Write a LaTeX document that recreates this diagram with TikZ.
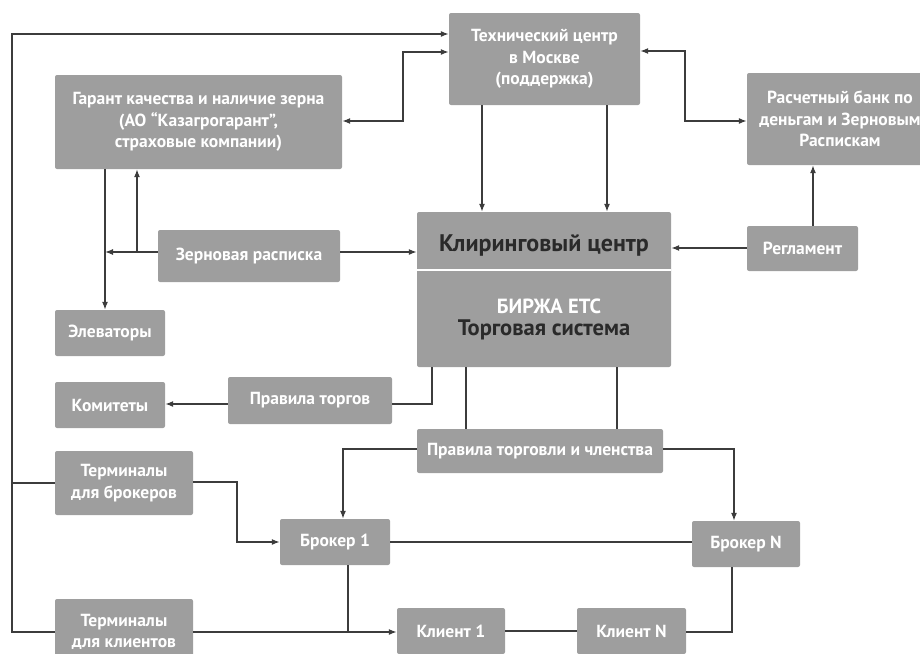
\documentclass[tikz,border=0pt]{standalone}
\usepackage{fontspec}
\setmainfont{PT Sans}
\usetikzlibrary{arrows.meta}
\definecolor{boxgray}{HTML}{9E9E9E}
\definecolor{linegray}{HTML}{3C3C3C}
\definecolor{darktxt}{HTML}{2A2A2A}
\begin{document}
\begin{tikzpicture}[x=1pt,y=-1pt,
  box/.style={fill=boxgray, rounded corners=2pt, text=white, align=center, inner sep=0pt, anchor=center,
    font=\bfseries\fontsize{17.5}{21.5}\selectfont},
  ln/.style={draw=linegray, line width=1.3pt},
  arr/.style={ln, -{Latex[length=8pt,width=6pt]}},
  darr/.style={ln, {Latex[length=8pt,width=6pt]}-{Latex[length=8pt,width=6pt]}},
  bigtxt/.style={text=darktxt, font=\bfseries\fontsize{24}{27}\selectfont, inner sep=0pt},
  midtxt/.style={text=white, font=\bfseries\fontsize{20.5}{23}\selectfont, inner sep=0pt}]
\useasboundingbox (0,0) rectangle (920,653);
% boxes
\node[box, minimum width=191pt, minimum height=92pt] (tech) at (544.5,59) {Технический центр\\в Москве\\(поддержка)};
\node[box, minimum width=287pt, minimum height=94pt] (garant) at (198.5,122) {Гарант качества и наличие зерна\\(АО “Казагрогарант”,\\страховые компании)};
\node[box, minimum width=186pt, minimum height=92pt] (bank) at (840,119) {Расчетный банк по\\деньгам и Зерновым\\Распискам};
\node[box, minimum width=254pt, minimum height=155pt] (clear) at (544,289.5) {};
\node[bigtxt] (cltxt) at (544,245) {Клиринговый центр};
\node[midtxt] (birzha) at (549,306) {БИРЖА ЕТС};
\node[bigtxt, font=\bfseries\fontsize{22.5}{26}\selectfont] (torgsys) at (544,330) {Торговая система};
\node[box, minimum width=182pt, minimum height=52pt] (zern) at (249,256) {Зерновая расписка};
\node[box, minimum width=111pt, minimum height=45pt] (regl) at (802.5,248.5) {Регламент};
\node[box, minimum width=110pt, minimum height=46pt] (elev) at (110,333) {Элеваторы};
\node[box, minimum width=110pt, minimum height=46pt] (komit) at (110,405) {Комитеты};
\node[box, minimum width=164pt, minimum height=47pt] (pravtorg) at (310,400.5) {Правила торгов};
\node[box, minimum width=246pt, minimum height=44pt] (pravchl) at (540,451) {Правила торговли и членства};
\node[box, minimum width=138pt, minimum height=64pt] (termbr) at (124,483) {Терминалы\\для брокеров};
\node[box, minimum width=110pt, minimum height=46pt] (br1) at (335,542) {Брокер 1};
\node[box, minimum width=108pt, minimum height=46pt] (brN) at (746,544) {Брокер N};
\node[box, minimum width=138pt, minimum height=66pt] (termkl) at (124,632) {Терминалы\\для клиентов};
\node[box, minimum width=108pt, minimum height=46pt] (kl1) at (451,631) {Клиент 1};
\node[box, minimum width=109pt, minimum height=46pt] (klN) at (631.5,631) {Клиент N};
% separator in clearing box
\draw[white, line width=1.6pt] (clear.west |- 0,270) -- (clear.east |- 0,270);
% connectors
\draw[arr] (termkl.west) -| (12,34) -- (tech.west |- 0,34);
\draw[ln] (termbr.west) -- (termbr.west -| 12,0);
\draw[darr] (garant.east |- 0,121) -| (403,52) -- (tech.west |- 0,52);
\draw[darr] (tech.east |- 0,51) -| (685,121) -- (bank.west |- 0,121);
\draw[arr] (tech.south -| 482,0) -- (clear.north -| 482,0);
\draw[arr] (tech.south -| 607,0) -- (clear.north -| 607,0);
\draw[arr] (regl.north -| 813,0) -- (bank.south -| 813,0);
\draw[arr] (regl.west |- 0,248) -- (clear.east |- 0,248);
\draw[arr] (zern.east |- 0,252) -- (clear.west |- 0,252);
\coordinate (zj) at (137,252);
\draw[arr] (zern.west |- 0,252) -- (105,252);
\draw[arr] (zj) -- (garant.south -| zj);
\draw[arr] (garant.south -| 105,0) -- (elev.north -| 105,0);
\draw[arr] (pravtorg.west |- 0,404) -- (komit.east |- 0,404);
\draw[ln] (clear.south -| 432,0) |- (pravtorg.east |- 0,404);
\draw[ln] (clear.south -| 466,0) -- (pravchl.north -| 466,0);
\draw[ln] (clear.south -| 617,0) -- (pravchl.north -| 617,0);
\draw[arr] (pravchl.west |- 0,449) -| (br1.north -| 343,0);
\draw[arr] (pravchl.east |- 0,449) -| (brN.north -| 734,0);
\draw[arr] (termbr.east |- 0,482) -| (237,542) -- (br1.west |- 0,542);
\draw[ln] (br1.east |- 0,542) -- (brN.west |- 0,542);
\draw[ln] (br1.south -| 348,0) -- (348,632);
\draw[arr] (termkl.east |- 0,632) -- (kl1.west |- 0,632);
\draw[ln] (kl1.east |- 0,631) -- (klN.west |- 0,631);
\draw[ln] (brN.south -| 732,0) |- (klN.east |- 0,632);
\end{tikzpicture}
\end{document}
